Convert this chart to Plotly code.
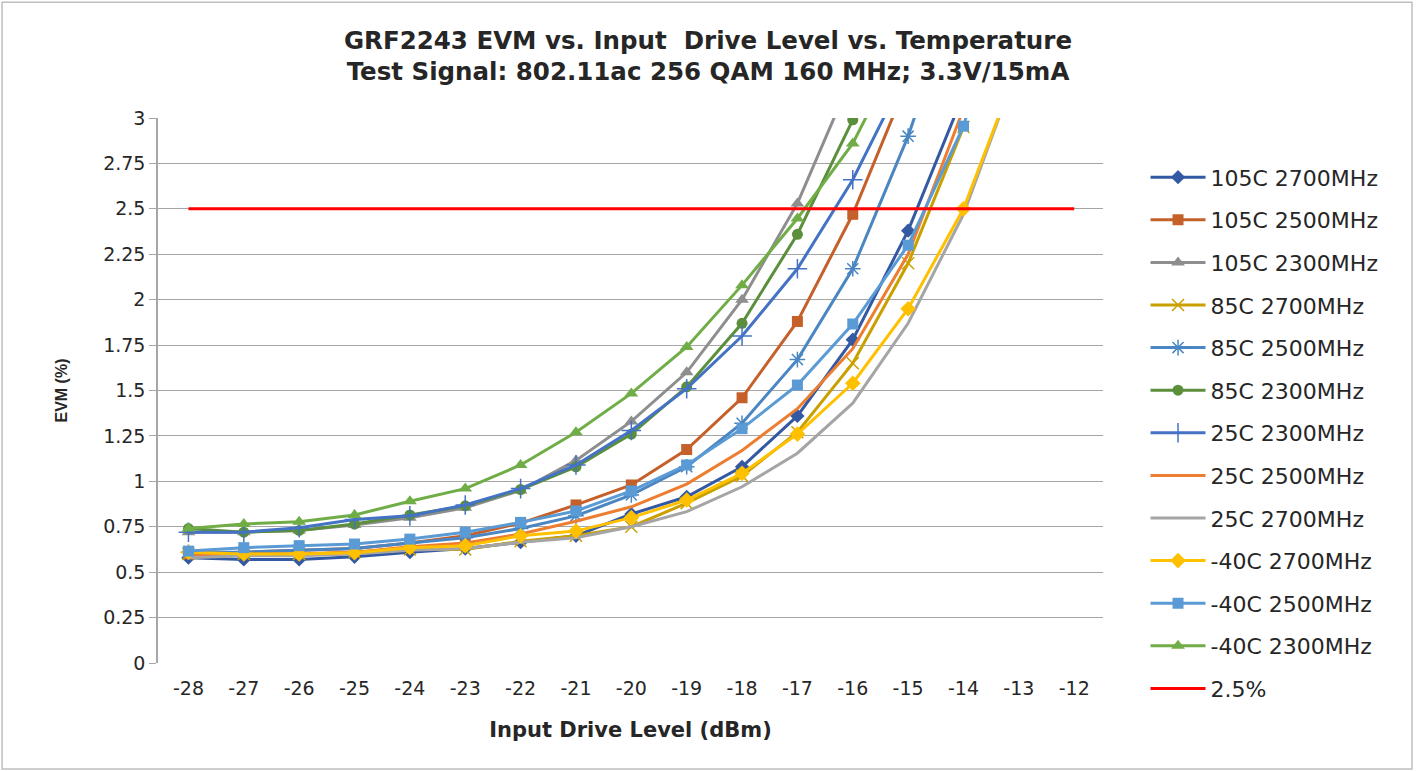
import plotly.graph_objects as go

drive_levels = [-28, -27, -26, -25, -24, -23, -22, -21, -20, -19, -18, -17, -16, -15, -14, -13]

series_names = [
    "105C 2700MHz", "105C 2500MHz", "105C 2300MHz",
    "85C 2700MHz", "85C 2500MHz", "85C 2300MHz",
    "25C 2300MHz", "25C 2500MHz", "25C 2700MHz",
    "-40C 2700MHz", "-40C 2500MHz", "-40C 2300MHz",
]

evm_105c_2700 = [0.58, 0.57, 0.57, 0.585, 0.61, 0.63, 0.665, 0.70, 0.82, 0.915, 1.08, 1.36, 1.78, 2.38, 3.13]
evm_105c_2500 = [0.60, 0.61, 0.62, 0.63, 0.66, 0.70, 0.77, 0.87, 0.98, 1.175, 1.46, 1.88, 2.47, 3.21]
evm_105c_2300 = [0.72, 0.72, 0.73, 0.76, 0.80, 0.855, 0.95, 1.115, 1.33, 1.60, 2.00, 2.53, 3.24]
evm_85c_2700 = [0.60, 0.60, 0.60, 0.61, 0.625, 0.625, 0.67, 0.70, 0.75, 0.88, 1.03, 1.27, 1.65, 2.20, 2.95]
evm_85c_2500 = [0.61, 0.61, 0.62, 0.63, 0.66, 0.69, 0.74, 0.81, 0.925, 1.08, 1.32, 1.67, 2.17, 2.90, 3.80]
evm_85c_2300 = [0.74, 0.72, 0.73, 0.765, 0.815, 0.865, 0.955, 1.08, 1.26, 1.52, 1.87, 2.36, 2.99, 3.80]
evm_25c_2300 = [0.72, 0.72, 0.745, 0.79, 0.81, 0.87, 0.96, 1.09, 1.28, 1.51, 1.80, 2.17, 2.66, 3.27]
evm_25c_2500 = [0.59, 0.60, 0.60, 0.61, 0.64, 0.66, 0.71, 0.78, 0.86, 0.985, 1.17, 1.40, 1.73, 2.25, 3.05]
evm_25c_2700 = [0.58, 0.59, 0.59, 0.60, 0.62, 0.63, 0.665, 0.69, 0.75, 0.833, 0.97, 1.155, 1.43, 1.87, 2.47, 3.30]
evm_m40c_2700 = [0.61, 0.60, 0.60, 0.607, 0.635, 0.646, 0.70, 0.726, 0.80, 0.897, 1.044, 1.26, 1.54, 1.95, 2.50, 3.30]
evm_m40c_2500 = [0.616, 0.635, 0.646, 0.655, 0.682, 0.72, 0.774, 0.837, 0.947, 1.09, 1.29, 1.53, 1.866, 2.30, 2.955, 4.00]
evm_m40c_2300 = [0.741, 0.765, 0.778, 0.815, 0.89, 0.96, 1.09, 1.27, 1.484, 1.74, 2.08, 2.447, 2.86, 3.46]

limit_x = [-28, -12]
limit_y = [2.5, 2.5]

series_values = [
    evm_105c_2700, evm_105c_2500, evm_105c_2300,
    evm_85c_2700, evm_85c_2500, evm_85c_2300,
    evm_25c_2300, evm_25c_2500, evm_25c_2700,
    evm_m40c_2700, evm_m40c_2500, evm_m40c_2300,
]

colors = [
    "#3459A3", "#C5602A", "#8E8E8E",
    "#C9A000", "#4A86C2", "#5B8F3C",
    "#4472C4", "#ED7D31", "#A5A5A5",
    "#FFC000", "#5B9BD5", "#70AD47",
]
symbols = [
    "diamond", "square", "triangle-up",
    "x-thin-open", "asterisk-open", "circle",
    "cross-thin-open", None, None,
    "diamond", "square", "triangle-up",
]
sizes = [11, 11, 12, 12, 13, 11, 14, 0, 0, 12, 11, 12]

fig = go.Figure()
for name, vals, col, sym, sz in zip(series_names, series_values, colors, symbols, sizes):
    x = drive_levels[:len(vals)]
    if sym is None:
        fig.add_trace(go.Scatter(x=x, y=vals, name=name, mode="lines",
                                 line=dict(color=col, width=3), legendgroup=name))
    else:
        marker = dict(symbol=sym, size=sz, color=col)
        if sym.endswith("-open"):
            marker["line"] = dict(color=col, width=1.5)
        fig.add_trace(go.Scatter(x=x, y=vals, name=name, mode="lines+markers",
                                 line=dict(color=col, width=3), marker=marker,
                                 legendgroup=name))

fig.add_trace(go.Scatter(x=limit_x, y=limit_y, name="2.5%", mode="lines",
                         line=dict(color="#FF0000", width=3), legendgroup="2.5%"))

fig.update_layout(
    width=1416, height=771,
    paper_bgcolor="white", plot_bgcolor="white",
    margin=dict(l=158, r=313, t=118, b=108),
    title=dict(
        text="<b>GRF2243 EVM vs. Input  Drive Level vs. Temperature<br>Test Signal: 802.11ac 256 QAM 160 MHz; 3.3V/15mA</b>",
        x=0.5, xanchor="center", y=0.937, yanchor="top",
        font=dict(family="DejaVu Sans, sans-serif", size=24.5, color="#262626"),
    ),
    font=dict(family="DejaVu Sans, sans-serif", size=19, color="#262626"),
    legend=dict(
        x=1.045, xanchor="left", y=0.9295, yanchor="top",
        font=dict(size=22, color="#262626"),
        tracegroupgap=11, itemwidth=55, bgcolor="rgba(0,0,0,0)",
        maxheight=760,
    ),
    showlegend=True,
)

fig.update_xaxes(
    range=[-28.55, -11.48], tickmode="array", tickvals=list(range(-28, -11)),
    ticktext=[str(v) for v in range(-28, -11)], showgrid=False, zeroline=False,
    showline=False, ticks="", ticklabelstandoff=12,
    title=dict(text="<b>Input Drive Level (dBm)</b>", standoff=24,
               font=dict(family="DejaVu Sans, sans-serif", size=21, color="#262626")),
)
fig.update_yaxes(
    range=[0, 3], dtick=0.25, tick0=0, showgrid=True, gridcolor="#A6A6A6", gridwidth=1,
    zeroline=False, showline=True, linecolor="#A6A6A6", linewidth=1.5,
    ticks="outside", ticklen=7, tickcolor="#A6A6A6",
    title=dict(text="<b>EVM (%)</b>", standoff=32,
               font=dict(family="Liberation Sans, Arial, sans-serif", size=16, color="#262626")),
)

fig.add_shape(type="rect", xref="paper", yref="paper", x0=-0.165, x1=1.327, y0=-0.1945, y1=1.2125,
              line=dict(color="#BFBFBF", width=1.5), fillcolor="rgba(0,0,0,0)", layer="below")

fig.write_html("out.html", post_script="document.body.style.margin='0px';",
               config={"displayModeBar": False})
